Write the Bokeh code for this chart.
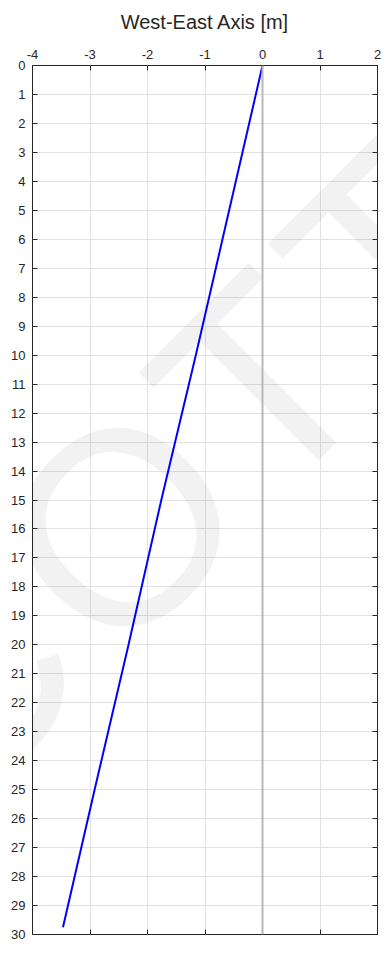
from bokeh.plotting import figure
from bokeh.models import Range1d, LinearAxis, FixedTicker, Span, CustomJSTickFormatter
from bokeh.core.properties import value
from bokeh.embed import file_html
from bokeh.resources import INLINE

# Horizontal drift (west-east, m) against depth (m)
depth_m = [0, 5, 10, 15, 20, 25, 29.75]
east_m = [0.0, -0.58, -1.16, -1.76, -2.33, -2.92, -3.47]

x_ticks = [-4, -3, -2, -1, 0, 1, 2]
y_ticks = list(range(0, 31))

FONT = "Liberation Sans"
DARK = "#262626"

p = figure(width=390, height=955, output_backend="svg", toolbar_location=None,
           x_range=Range1d(-4, 2), y_range=Range1d(30, 0),
           x_axis_location=None, y_axis_location=None,
           min_border_left=32, min_border_right=13,
           min_border_top=65, min_border_bottom=21)
p.background_fill_color = "white"
p.border_fill_color = "white"
p.outline_line_color = DARK
p.outline_line_width = 1


def make_axis(ticks, labels=True, standoff=7):
    ax = LinearAxis(ticker=FixedTicker(ticks=ticks))
    ax.axis_line_color = None
    ax.major_tick_in = 5
    ax.major_tick_out = 0
    ax.major_tick_line_color = DARK
    ax.minor_tick_line_color = None
    ax.major_label_text_font = FONT
    ax.major_label_text_font_size = "13px"
    ax.major_label_text_color = DARK
    ax.major_label_standoff = standoff
    if labels:
        # plain hyphen for negative numbers
        ax.major_label_overrides = {t: str(t) for t in ticks}
    else:
        ax.formatter = CustomJSTickFormatter(code="return ''")
    return ax


top = make_axis(x_ticks, standoff=7)
top.axis_label = "West-East Axis [m]"
top.axis_label_text_font = FONT
top.axis_label_text_font_size = "20px"
top.axis_label_text_font_style = "normal"
top.axis_label_text_color = DARK
top.axis_label_standoff = 14
p.add_layout(top, "above")

p.add_layout(make_axis(x_ticks, labels=False, standoff=0), "below")
p.add_layout(make_axis(y_ticks, standoff=7), "left")
p.add_layout(make_axis(y_ticks, labels=False, standoff=0), "right")

p.xgrid.ticker = FixedTicker(ticks=x_ticks)
p.ygrid.ticker = FixedTicker(ticks=y_ticks)
for g in (p.xgrid, p.ygrid):
    g.grid_line_color = "#e2e2e2"
    g.grid_line_width = 1

# faint diagonal watermark, one letter at a time
p.text(x=[-5.234, -2.47, -0.043, 2.2], y=[21.29, 15.92, 10.99, 6.54],
       text=["C", "O", "T", "T"], angle=0.785,
       text_font=value(FONT), text_font_size="275px", text_font_style="normal",
       text_color="#000000", text_alpha=0.05,
       text_align="center", text_baseline="middle")

p.add_layout(Span(location=0, dimension="height", line_color="#b8b8b8", line_width=2))

p.line(east_m, depth_m, line_color="#0000ff", line_width=2)

open("out.html", "w").write(file_html(p, INLINE))
